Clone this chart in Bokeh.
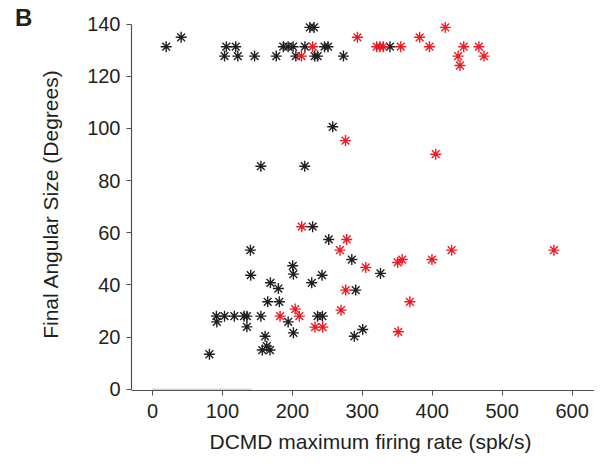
from bokeh.plotting import figure
from bokeh.models import Range1d, FixedTicker, Div, Title
from bokeh.layouts import column
from bokeh.embed import file_html
from bokeh.resources import INLINE

# DCMD max firing rate (spk/s) and final angular size (deg)
black_x = [19.6, 41, 105.6, 119, 103, 122, 146, 177, 187, 194, 201, 218, 205, 225, 231, 232, 236, 246, 251, 273, 339.6,
           257.7, 155, 217.7,
           229, 252, 140, 285, 200.5, 201.5, 140.5, 242.4, 227.7, 168.6, 180, 290.6, 164.8, 181.4,
           91.4, 103, 117, 131, 135, 155, 236, 243, 92, 194, 135, 161, 201.5, 288.6, 300.6, 81.4, 163.4, 157, 168, 326]
black_y = [131.3, 134.9, 131.3, 131.3, 127.7, 127.7, 127.7, 127.7, 131.3, 131.3, 131.3, 131.3, 127.7, 138.7, 138.7, 127.7, 127.7, 131.3, 131.3, 127.7, 131.3,
           100.6, 85.5, 85.5,
           62.3, 57.4, 53.3, 49.7, 47.3, 44.1, 43.7, 43.7, 40.8, 40.8, 38.6, 38, 33.5, 33.5,
           28, 28, 28, 28, 28, 28, 28, 28, 25.8, 25.8, 23.9, 20.3, 21.6, 20.3, 22.9, 13.4, 16.5, 15, 15, 44.4]

red_x = [229, 213, 293, 320.6, 325, 330, 355, 382, 396, 418.6, 445, 437, 439.6, 466.7, 474,
         276, 405,
         213.4, 277.7, 268, 305, 276.3, 204, 269.6, 182.4, 210, 232.4, 243.4, 350.6, 357, 399.6, 427.7, 574, 368, 351.4]
red_y = [131.3, 127.7, 134.9, 131.3, 131.3, 131.3, 131.3, 134.9, 131.3, 138.7, 131.3, 127.7, 124.1, 131.3, 127.7,
         95.3, 90.1,
         62.3, 57.4, 53.3, 46.7, 38, 30.7, 30.3, 28, 28, 23.8, 23.8, 48.6, 49.7, 49.7, 53.3, 53.3, 33.5, 22]

dotted_x = [0, 143]
dotted_y = [0, 0]

x_ticks = [0, 100, 200, 300, 400, 500, 600]
y_ticks = [0, 20, 40, 60, 80, 100, 120, 140]

FONT = "Liberation Sans"
TXT = "#231f20"

p = figure(frame_width=463, frame_height=373,
           x_range=Range1d(-30, 632), y_range=Range1d(-0.5, 142.5),
           output_backend="svg", toolbar_location=None,
           min_border_left=131, min_border_top=17, min_border_right=0, min_border_bottom=62)
p.outline_line_color = None
p.xgrid.visible = False
p.ygrid.visible = False
p.background_fill_color = None
p.border_fill_color = None

p.line(dotted_x, dotted_y, line_color="#888888", line_dash="1 1", line_width=1)

p.scatter(black_x, black_y, marker="asterisk", size=11, line_color="#231f20", line_width=1.4)
p.scatter(red_x, red_y, marker="asterisk", size=11, line_color="#ed1c24", line_width=1.4)

for ax in (p.xaxis[0], p.yaxis[0]):
    ax.axis_line_color = "#505050"
    ax.axis_line_width = 1.2
    ax.major_tick_line_color = "#505050"
    ax.major_tick_out = 5
    ax.major_tick_in = 0
    ax.minor_tick_line_color = None
    ax.major_label_text_font = FONT
    ax.major_label_text_font_size = "20px"
    ax.major_label_text_color = TXT
    ax.axis_label_text_font = FONT
    ax.axis_label_text_font_size = "21px"
    ax.axis_label_text_font_style = "normal"
    ax.axis_label_text_color = TXT

p.xaxis.ticker = FixedTicker(ticks=x_ticks)
p.yaxis.ticker = FixedTicker(ticks=y_ticks)
p.yaxis.bounds = (0, 140)
p.yaxis.axis_label = "Final Angular Size (Degrees)"
p.xaxis.major_label_standoff = 8
p.yaxis.major_label_standoff = 6
p.yaxis.axis_label_standoff = 22

xlabel = Title(text="DCMD maximum firing rate (spk/s)", align="left", offset=78, standoff=15,
               text_font=FONT, text_font_size="21px", text_font_style="normal", text_color=TXT)
p.add_layout(xlabel, "below")

label_b = Div(text=("<div style=\"font-family:'Liberation Sans';font-size:24px;font-weight:bold;"
                    "color:#231f20;line-height:1.15;padding-left:15px;padding-top:4px\">B</div>"),
              width=60, height=36, margin=(0, 0, -36, 0))

layout = column(label_b, p, spacing=0)
open("out.html", "w").write(file_html(layout, INLINE))
